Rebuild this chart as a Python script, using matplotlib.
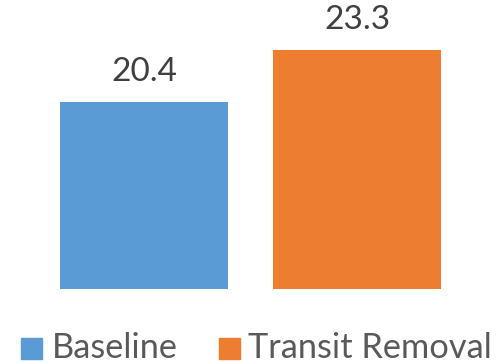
import matplotlib
matplotlib.use("Agg")
import matplotlib.pyplot as plt
from matplotlib.patches import Rectangle

categories = ["Baseline", "Transit Removal"]
values = [20.4, 23.3]
colors = ["#5B9BD5", "#ED7D31"]
label_texts = ["20.4", "23.3"]

W, H = 498, 363
fig = plt.figure(figsize=(W / 100, H / 100), dpi=100)
plt.rcParams['font.family'] = ['Lato', 'DejaVu Sans']

# axes geometry in pixels
ax_left, ax_right = 37.5, 463.5
ax_bottom_px = 288.7
ymin, ymax = 10, 25
scale = 17.93
ax_top_px = ax_bottom_px - (ymax - ymin) * scale
ax = fig.add_axes([ax_left / W, 1 - ax_bottom_px / H, (ax_right - ax_left) / W,
                   (ax_bottom_px - ax_top_px) / H])
x = list(range(len(categories)))
bars = ax.bar(x, values, width=0.789, color=colors)
ax.set_xlim(-0.5, 1.5)
ax.set_ylim(ymin, ymax)
ax.axis('off')

for xi, v, t in zip(x, values, label_texts):
    ax.annotate(t, (xi, v), xytext=(0, 15), textcoords='offset points',
                ha='center', va='baseline', fontsize=24, color='#404040')

# manual legend (pixel layout)
sq_x = [21, 219]
txt_x = [52, 248]
sq_top, sq_size = 338, 21
baseline_y = 358.5
renderer = fig.canvas.get_renderer()
texts = []
for i, (cat, c) in enumerate(zip(categories, colors)):
    fig.patches.append(Rectangle((sq_x[i] / W, 1 - (sq_top + sq_size) / H), sq_size / W, sq_size / H,
                                 transform=fig.transFigure, color=c, figure=fig))
    texts.append(fig.text(txt_x[i] / W, 1 - baseline_y / H, cat, fontsize=24, color='#595959',
                          ha='left', va='baseline'))
# fit "Transit Removal" to target width 244 px
w = texts[1].get_window_extent(renderer).width
fs = 24 * 244 / w
for t in texts:
    t.set_fontsize(fs)

fig.savefig("out.png", dpi=100)
